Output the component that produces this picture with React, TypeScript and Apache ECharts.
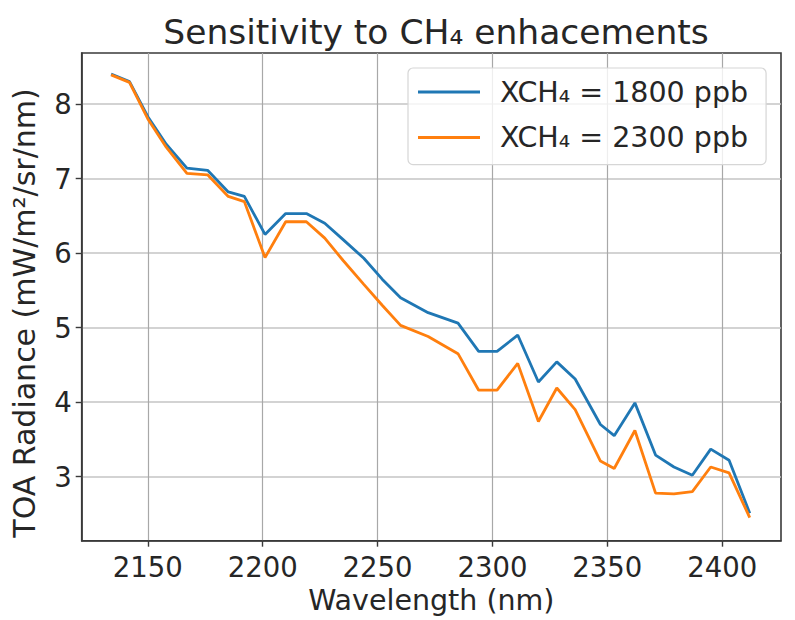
import React, { useEffect, useRef } from "react";
import * as echarts from "echarts";

const wavelengths = [2134, 2142, 2150, 2158, 2167, 2176, 2185, 2192, 2201, 2210, 2219, 2227, 2235, 2244, 2252, 2260, 2272, 2285, 2294, 2302, 2311, 2320, 2328, 2336, 2347, 2353, 2362, 2371, 2379, 2387, 2395, 2403, 2412];
const radiance1800 = [8.40, 8.30, 7.83, 7.46, 7.14, 7.11, 6.82, 6.76, 6.25, 6.53, 6.53, 6.40, 6.18, 5.93, 5.65, 5.40, 5.20, 5.06, 4.68, 4.68, 4.90, 4.27, 4.54, 4.31, 3.70, 3.55, 3.99, 3.29, 3.13, 3.02, 3.37, 3.22, 2.51];
const radiance2300 = [8.39, 8.29, 7.80, 7.42, 7.07, 7.05, 6.76, 6.69, 5.94, 6.42, 6.42, 6.20, 5.90, 5.58, 5.30, 5.03, 4.88, 4.65, 4.16, 4.16, 4.52, 3.74, 4.19, 3.90, 3.21, 3.11, 3.62, 2.78, 2.77, 2.80, 3.13, 3.05, 2.45];
const xTicks = [2150, 2200, 2250, 2300, 2350, 2400];
const yTicks = [3, 4, 5, 6, 7, 8];
const seriesNames = ["XCH\u2084 = 1800 ppb", "XCH\u2084 = 2300 ppb"];

const FONT = "DejaVu Sans";
const TXT = "#262626";

export default function App() {
  const ref = useRef<HTMLDivElement>(null);
  useEffect(() => {
    if (!ref.current) return;
    const chart = echarts.init(ref.current, undefined, { renderer: "svg" });
    const pair = (vals: number[]) => wavelengths.map((w, i) => [w, vals[i]]);
    chart.setOption({
      animation: false,
      backgroundColor: "#ffffff",
      textStyle: { fontFamily: FONT },
      title: {
        text: "Sensitivity to CH\u2084 enhacements",
        left: 431,
        top: 9,
        textAlign: "center",
        textStyle: { fontFamily: FONT, fontSize: 34.5, fontWeight: "normal", color: TXT },
      },
      graphic: [
        {
          type: "text",
          x: 24,
          y: 313,
          rotation: Math.PI / 2,
          style: {
            text: "TOA Radiance (mW/m\u00b2/sr/nm)",
            fontFamily: FONT,
            fontSize: 30,
            fill: TXT,
            textAlign: "center",
            textVerticalAlign: "middle",
          },
        },
      ],
      grid: {
        left: 81.7,
        right: 14,
        top: 53,
        bottom: 79.3,
        show: true,
        borderColor: "#3a3a3a",
        borderWidth: 1.6,
        backgroundColor: "transparent",
      },
      legend: {
        orient: "vertical",
        left: 408,
        top: 68,
        align: "left",
        icon: "rect",
        itemWidth: 62,
        itemHeight: 3,
        itemGap: 15.6,
        padding: [9, 18, 12, 10],
        backgroundColor: "rgba(255,255,255,0.8)",
        borderColor: "#d6d6d6",
        borderWidth: 1.2,
        borderRadius: 5,
        textStyle: { fontFamily: FONT, fontSize: 28.5, color: TXT, lineHeight: 30, padding: [0, 0, 0, 15] },
        data: seriesNames,
      },
      xAxis: {
        type: "value",
        min: 2121.2,
        max: 2425.6,
        name: "Wavelength (nm)",
        nameLocation: "middle",
        nameGap: 43,
        nameTextStyle: { fontFamily: FONT, fontSize: 28.5, color: TXT },
        axisLine: { show: true, lineStyle: { color: "#3a3a3a", width: 1.6 } },
        axisTick: { show: true, length: 6, customValues: xTicks, lineStyle: { color: "#3a3a3a", width: 1.4 } },
        axisLabel: {
          customValues: xTicks,
          margin: 12,
          fontFamily: FONT,
          fontSize: 27.5,
          color: TXT,
          formatter: (v: number) => String(v),
        },
        splitLine: { show: true, lineStyle: { color: "#a8a8a8", width: 1.2 } },
      },
      yAxis: {
        type: "value",
        min: 2.141,
        max: 8.684,
        axisLine: { show: true, lineStyle: { color: "#3a3a3a", width: 1.6 } },
        axisTick: { show: true, length: 6, customValues: yTicks, lineStyle: { color: "#3a3a3a", width: 1.4 } },
        axisLabel: {
          customValues: yTicks,
          margin: 10,
          fontFamily: FONT,
          fontSize: 27.5,
          color: TXT,
          formatter: (v: number) => String(v),
        },
        splitLine: { show: true, lineStyle: { color: "#c4c4c4", width: 1.6 } },
      },
      series: [
        {
          name: seriesNames[0],
          type: "line",
          data: pair(radiance1800),
          symbol: "none",
          lineStyle: { color: "#1f77b4", width: 2.8 },
          itemStyle: { color: "#1f77b4" },
          z: 3,
        },
        {
          name: seriesNames[1],
          type: "line",
          data: pair(radiance2300),
          symbol: "none",
          lineStyle: { color: "#ff7f0e", width: 2.8 },
          itemStyle: { color: "#ff7f0e" },
          z: 4,
        },
      ],
    });
    return () => chart.dispose();
  }, []);
  return (
    <div
      ref={ref}
      style={{ position: "absolute", left: 0, top: 0, width: 795, height: 620 }}
    />
  );
}
